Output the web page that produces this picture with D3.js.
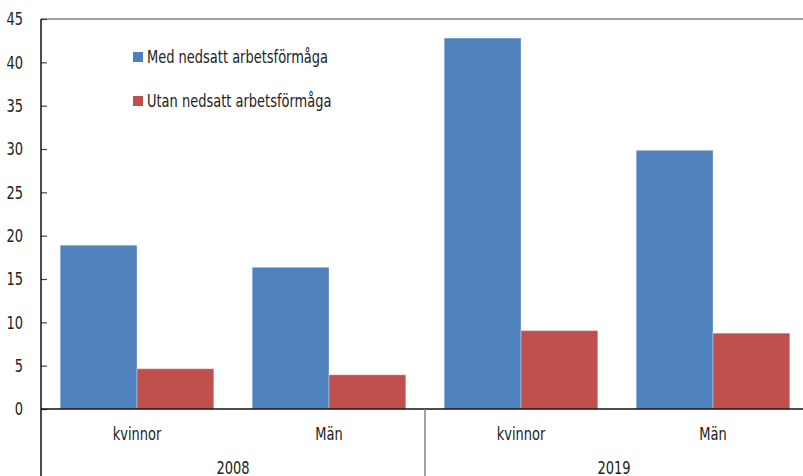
<!DOCTYPE html>
<html>
  <head>
    <meta charset="utf-8" />
    <title>Nedsatt arbetsförmåga</title>
    <script src="https://d3js.org/d3.v7.min.js"></script>
    <style>
      body { margin: 0; background: white; }
      text { font-family: "DejaVu Sans Condensed", "DejaVu Sans", sans-serif; fill: #222; }
    </style>
  </head>
  <body>
    <svg width="803" height="476" id="chart"></svg>

    <script>
      //the data
      var years = ["2008", "2019"];
      var groups = ["kvinnor", "Män"];
      var seriesNames = ["Med nedsatt arbetsförmåga", "Utan nedsatt arbetsförmåga"];
      var medValues = [18.9, 16.35, 42.8, 29.85];
      var utanValues = [4.65, 3.95, 9.05, 8.75];
      var yTicks = [0, 5, 10, 15, 20, 25, 30, 35, 40, 45];
      var colors = ["#4F81BD", "#C0504D"];

      var svg = d3.select("#chart");
      // careful: "top" is taken by window.top
      var mLeft = 41, mTop = 19, mBottom = 409, mRight = 809;

      //one slot for each year + group pair
      var slots = [];
      years.forEach(function(yr){
        groups.forEach(function(gr){ slots.push(yr + "|" + gr); });
      });

      var x = d3.scaleBand().domain(slots).range([mLeft, mRight])
          .paddingInner(0.2).paddingOuter(0.1);
      var xSub = d3.scaleBand().domain([0, 1]).range([0, x.bandwidth()]);
      var y = d3.scaleLinear().domain([0, 45]).range([mBottom, mTop]);

      //top frame line
      svg.append("line")
          .attr("x1", mLeft).attr("x2", 803)
          .attr("y1", y(45)).attr("y2", y(45))
          .attr("stroke", "#808080").attr("stroke-width", 1.5);

      //bars
      var rows = slots.map(function(s, i){
        return { slot: s, vals: [medValues[i], utanValues[i]] };
      });
      var g = svg.selectAll("g.slot").data(rows).enter().append("g")
          .attr("class", "slot")
          .attr("transform", function(d){ return "translate(" + x(d.slot) + ",0)"; });
      g.selectAll("rect").data(function(d){ return d.vals; }).enter().append("rect")
          .attr("x", function(d, i){ return xSub(i); })
          .attr("width", xSub.bandwidth())
          .attr("y", function(d){ return y(d); })
          .attr("height", function(d){ return y(0) - y(d); })
          .attr("fill", function(d, i){ return colors[i]; })
          .attr("stroke", "rgba(255,255,255,0.35)")
          .attr("stroke-width", 1);

      //y axis, ticks pointing inwards
      var yAxis = d3.axisRight(y).tickValues(yTicks).tickSize(6).tickFormat(d3.format("d"));
      var ya = svg.append("g").attr("transform", "translate(" + mLeft + ",0)").call(yAxis);
      ya.select(".domain").remove();
      ya.selectAll("line").attr("stroke", "#444").attr("stroke-width", 1.2);
      ya.selectAll("text")
          .attr("x", -18).attr("text-anchor", "end")
          .attr("font-size", 17).attr("dy", "0.35em")
          .attr("font-family", null).attr("fill", "#222");

      svg.append("line")
          .attr("x1", mLeft).attr("x2", mLeft)
          .attr("y1", mTop).attr("y2", 476)
          .attr("stroke", "#111").attr("stroke-width", 1.5);

      //zero line
      svg.append("line")
          .attr("x1", mLeft).attr("x2", 803)
          .attr("y1", y(0)).attr("y2", y(0))
          .attr("stroke", "#111").attr("stroke-width", 1.5);

      //separator between the years
      var sep = (x(slots[1]) + x.bandwidth() + x(slots[2])) / 2;
      svg.append("line")
          .attr("x1", sep).attr("x2", sep)
          .attr("y1", y(0)).attr("y2", 476)
          .attr("stroke", "#808080").attr("stroke-width", 1.5);

      //group labels
      svg.selectAll("text.grp").data(slots).enter().append("text")
          .attr("class", "grp")
          .attr("x", function(d){ return x(d) + x.bandwidth() / 2; })
          .attr("y", 440)
          .attr("text-anchor", "middle")
          .attr("font-size", 17)
          .text(function(d){ return d.split("|")[1]; });

      //year labels
      svg.selectAll("text.yr").data(years).enter().append("text")
          .attr("class", "yr")
          .attr("x", function(d, i){ return i == 0 ? (mLeft + sep) / 2 : (sep + mRight) / 2 - 3; })
          .attr("y", 474)
          .attr("text-anchor", "middle")
          .attr("font-size", 17)
          .text(function(d){ return d; });

      //legend
      var leg = svg.selectAll("g.leg").data(seriesNames).enter().append("g")
          .attr("class", "leg")
          .attr("transform", function(d, i){ return "translate(133," + (52 + i * 44) + ")"; });
      leg.append("rect").attr("width", 10).attr("height", 10)
          .attr("fill", function(d, i){ return colors[i]; });
      leg.append("text").attr("x", 14).attr("y", 11)
          .attr("font-size", 17)
          .text(function(d){ return d; });

      //no narrow font installed, so squeeze the text sideways
      svg.selectAll("text").each(function(){
        var w = this.getComputedTextLength();
        d3.select(this).attr("textLength", w * 0.85).attr("lengthAdjust", "spacingAndGlyphs");
      });
    </script>
  </body>
</html>
